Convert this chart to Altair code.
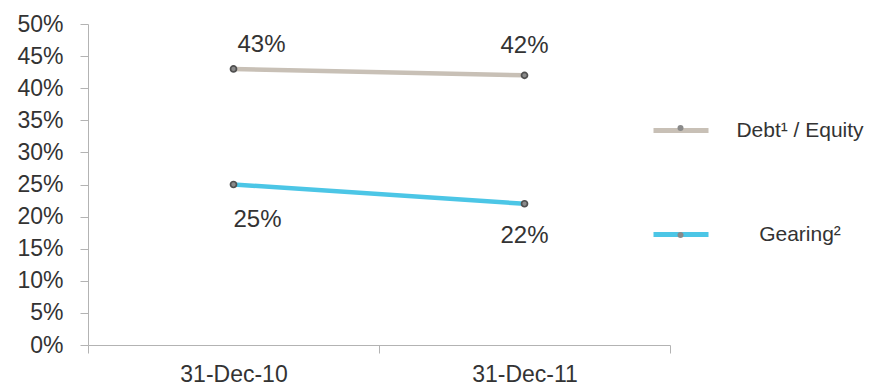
import altair as alt
import pandas as pd

# Reporting dates and ratio series
dates = ["31-Dec-10", "31-Dec-11"]
series_names = ["Debt¹ / Equity", "Gearing²"]
debt_equity = [0.43, 0.42]
gearing = [0.25, 0.22]
y_ticks = [0.0, 0.05, 0.10, 0.15, 0.20, 0.25, 0.30, 0.35, 0.40, 0.45, 0.50]

colors = ["#c8c0b6", "#4cc6e6"]
FONT = "Liberation Sans"
TEXT = "#333333"
AXIS = "#b3b3b3"

rows = []
for i, d in enumerate(dates):
    rows.append({"date": d, "pos": i + 0.5, "series": series_names[0], "value": debt_equity[i]})
    rows.append({"date": d, "pos": i + 0.5, "series": series_names[1], "value": gearing[i]})
df = pd.DataFrame(rows)

label_expr = " : ".join(
    [f"datum.value == {i + 0.5} ? '{d}'" for i, d in enumerate(dates)] + ["''"]
)

x_enc = alt.X(
    "pos:Q",
    scale=alt.Scale(domain=[0, len(dates)], nice=False, zero=False),
    axis=alt.Axis(
        values=[v / 2 for v in range(2 * len(dates) + 1)],
        labelExpr=label_expr,
        title=None,
        grid=False,
        domainColor=AXIS,
        tickColor={"condition": {"test": "datum.value % 1 != 0", "value": "transparent"}, "value": AXIS},
        tickSize=8,
        labelFont=FONT,
        labelFontSize=23,
        labelColor=TEXT,
        labelPadding=10,
        labelFlush=False,
        labelOverlap=False,
    ),
)
y_enc = alt.Y(
    "value:Q",
    scale=alt.Scale(domain=[0, 0.5], nice=False),
    axis=alt.Axis(
        values=y_ticks,
        format=".0%",
        title=None,
        grid=False,
        domainColor=AXIS,
        tickColor=AXIS,
        tickSize=8,
        labelFont=FONT,
        labelFontSize=23,
        labelColor=TEXT,
        labelPadding=17,
        labelOverlap=False,
        labelFlush=False,
        labelSeparation=0,
    ),
)

base = alt.Chart(df).encode(x=x_enc, y=y_enc)

lines = base.mark_line(strokeWidth=4.5).encode(
    color=alt.Color(
        "series:N",
        sort=series_names,
        scale=alt.Scale(domain=series_names, range=colors),
        legend=alt.Legend(
            title=None,
            orient="none",
            legendX=563,
            legendY=76.5,
            direction="vertical",
            symbolType="stroke",
            symbolSize=3025,
            symbolStrokeWidth=5,
            rowPadding=64,
            labelFont=FONT,
            labelFontSize=21,
            labelColor=TEXT,
            labelAlign="center",
            labelOffset=89,
            labelLimit=300,
            zindex=0,
        ),
    ),
)

points = base.transform_calculate(marker="datum.series").mark_point(
    filled=True, fill="#8a8a8a", stroke="#505050", strokeWidth=1.7, size=36, opacity=1
).encode(
    shape=alt.Shape(
        "marker:N",
        sort=series_names,
        scale=alt.Scale(domain=series_names, range=["circle", "circle"]),
        legend=alt.Legend(
            title=None,
            orient="none",
            legendX=582,
            legendY=93.5,
            direction="vertical",
            symbolSize=36,
            symbolFillColor="#8a8a8a",
            symbolStrokeColor="#505050",
            symbolStrokeWidth=1.7,
            rowPadding=85,
            labelExpr="''",
            labelFont=FONT,
            labelFontSize=21,
            zindex=1,
        ),
    ),
)

# Value labels: per date/series placement
label_styles = [
    (dates[0], series_names[0], "left", 4, -24),
    (dates[0], series_names[1], "left", 0, 35),
    (dates[1], series_names[0], "center", 0, -29),
    (dates[1], series_names[1], "center", 0, 32),
]
labels = []
for d, s, align, dx, dy in label_styles:
    labels.append(
        base.transform_filter(
            (alt.datum.date == d) & (alt.datum.series == s)
        ).mark_text(
            align=align, baseline="middle", dx=dx, dy=dy,
            font=FONT, fontSize=24, color=TEXT,
        ).encode(
            text=alt.Text("value:Q", format=".0%"),
        )
    )

chart = alt.layer(lines, points, *labels).resolve_legend(
    color="independent", shape="independent"
).properties(
    width=582,
    height=321,
    autosize=alt.AutoSizeParams(type="none"),
    padding={"left": 88, "top": 24, "right": 199, "bottom": 42},
    background="white",
).configure_view(stroke=None)

chart.save("out.html", embed_options={"renderer": "svg", "actions": False})
